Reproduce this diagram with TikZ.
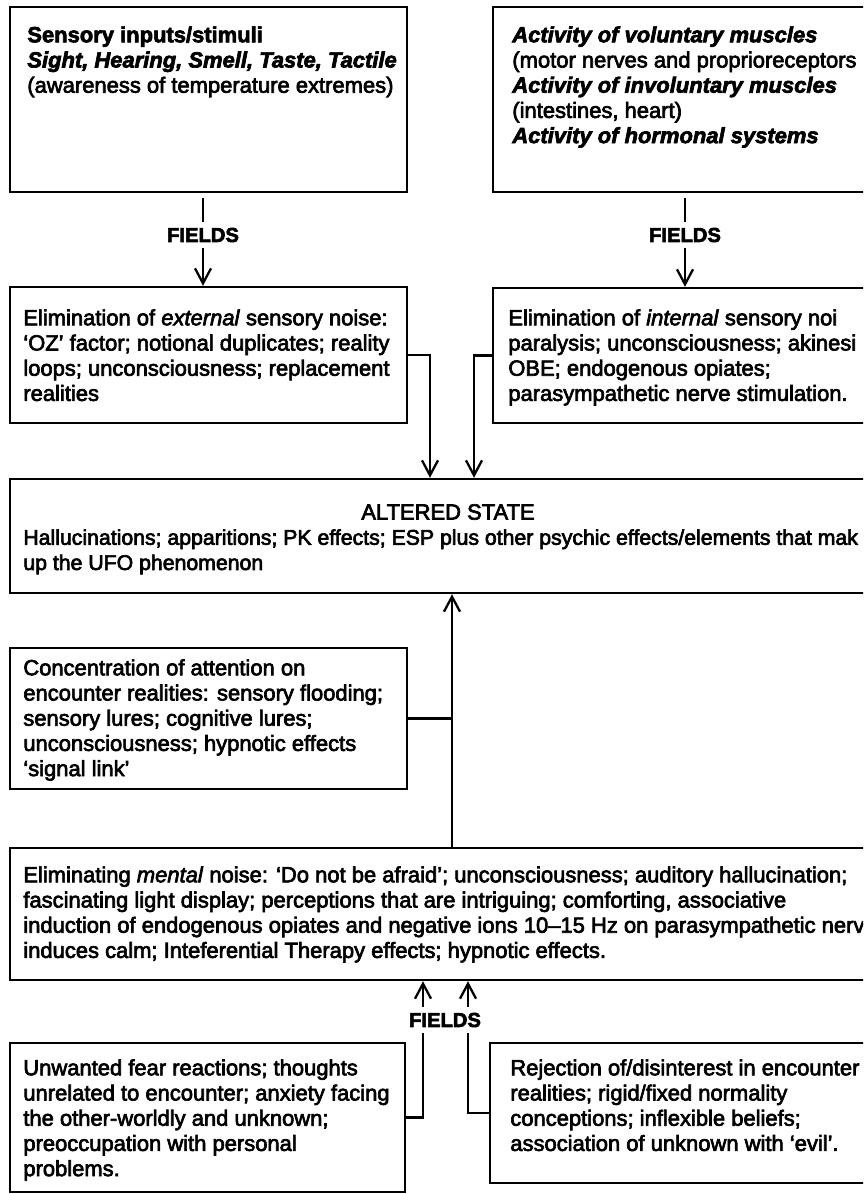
\documentclass[tikz,border=0pt]{standalone}
\usepackage{fontspec}
\setmainfont{Liberation Sans}[FakeBold=3]
\usepackage{tikz}
\usetikzlibrary{positioning,arrows.meta,fit,calc}

\begin{document}
\begin{tikzpicture}[x=0.02cm,y=-0.02cm,
box/.style={rectangle,draw,line width=1.4pt,inner sep=0pt},
txt/.style={anchor=north west,inner sep=0pt,align=left,font=\fontsize{12.5}{14.35}\selectfont},
fields/.style={inner sep=3pt,font=\fontsize{11.5}{12}\selectfont\bfseries},
arrow/.style={-{Straight Barb[length=3mm,width=3.2mm]},line width=1.3pt},
link/.style={line width=1.3pt}
]
\clip (0,0) rectangle (863,1194);
% boxes
\node[box,fit={(10,7) (407,192)}] (sens) {};
\node[box,fit={(493,7) (905,192)}] (body) {};
\node[box,fit={(10,287) (407,423)}] (ext) {};
\node[box,fit={(493,288) (905,423)}] (int) {};
\node[box,fit={(10,479) (905,593)}] (alt) {};
\node[box,fit={(10,648) (407,789)}] (conc) {};
\node[box,fit={(10,848) (905,980)}] (ment) {};
\node[box,fit={(10,1043) (405,1192)}] (fear) {};
\node[box,fit={(490,1043) (905,1183)}] (rej) {};
% texts
\node[txt] (sensT) at (27,26) {{\bfseries Sensory inputs/stimuli}\\{\bfseries\itshape Sight, Hearing, Smell, Taste, Tactile}\\(awareness of temperature extremes)};
\node[txt] (bodyT) at (512,26) {{\bfseries\itshape Activity of voluntary muscles}\\(motor nerves and proprioreceptors\\{\bfseries\itshape Activity of involuntary muscles}\\(intestines, heart)\\{\bfseries\itshape Activity of hormonal systems}};
\node[txt] (extT) at (23,309) {Elimination of \textit{external} sensory noise:\\`OZ' factor; notional duplicates; reality\\loops; unconsciousness; replacement\\realities};
\node[txt] (intT) at (508,309) {Elimination of \textit{internal} sensory noi\\paralysis; unconsciousness; akinesi\\OBE; endogenous opiates;\\parasympathetic nerve stimulation.};
\node[txt,anchor=center] (altH) at (448,512) {ALTERED STATE};
\node[txt,font=\fontsize{12.1}{14.35}\selectfont] (altT) at (23,529) {Hallucinations; apparitions; PK effects; ESP plus other psychic effects/elements that mak\\up the UFO phenomenon};
\node[txt] (concT) at (23,659) {Concentration of attention on\\encounter realities: sensory flooding;\\sensory lures; cognitive lures;\\unconsciousness; hypnotic effects\\`signal link'};
\node[txt] (mentT) at (23,866) {Eliminating \textit{mental} noise: `Do not be afraid'; unconsciousness; auditory hallucination;\\fascinating light display; perceptions that are intriguing; comforting, associative\\induction of endogenous opiates and negative ions 10--15 Hz on parasympathetic nerv\\induces calm; Inteferential Therapy effects; hypnotic effects.};
\node[txt] (fearT) at (23,1059) {Unwanted fear reactions; thoughts\\unrelated to encounter; anxiety facing\\the other-worldly and unknown;\\preoccupation with personal\\problems.};
\node[txt] (rejT) at (510,1059) {Rejection of/disinterest in encounter\\realities; rigid/fixed normality\\conceptions; inflexible beliefs;\\association of unknown with `evil'.};
% fields labels
\node[fields] (fA) at (203,235) {FIELDS};
\node[fields] (fB) at (685,235) {FIELDS};
\node[fields] (fC) at (445,1020) {FIELDS};
% connectors
\draw[link,shorten <=1mm] (sens.south -| fA) -- (fA.north);
\draw[arrow] (fA.south) -- (fA |- ext.north);
\draw[link,shorten <=1mm] (body.south -| fB) -- (fB.north);
\draw[arrow] (fB.south) -- (fB |- int.north);
\draw[arrow] (ext.east) -| (alt.north -| 430,0);
\draw[arrow] (int.west) -| (alt.north -| 474,0);
\draw[link] (conc.east) -- (conc.east -| 452,0);
\draw[arrow] (ment.north -| 452,0) -- (alt.south -| 452,0);
\draw[link] (fear.east) -| (fC.south -| 423,0);
\draw[arrow] (fC.north -| 423,0) -- (ment.south -| 423,0);
\draw[link] (rej.west) -| (fC.south -| 468,0);
\draw[arrow] (fC.north -| 468,0) -- (ment.south -| 468,0);
\end{tikzpicture}
\end{document}
